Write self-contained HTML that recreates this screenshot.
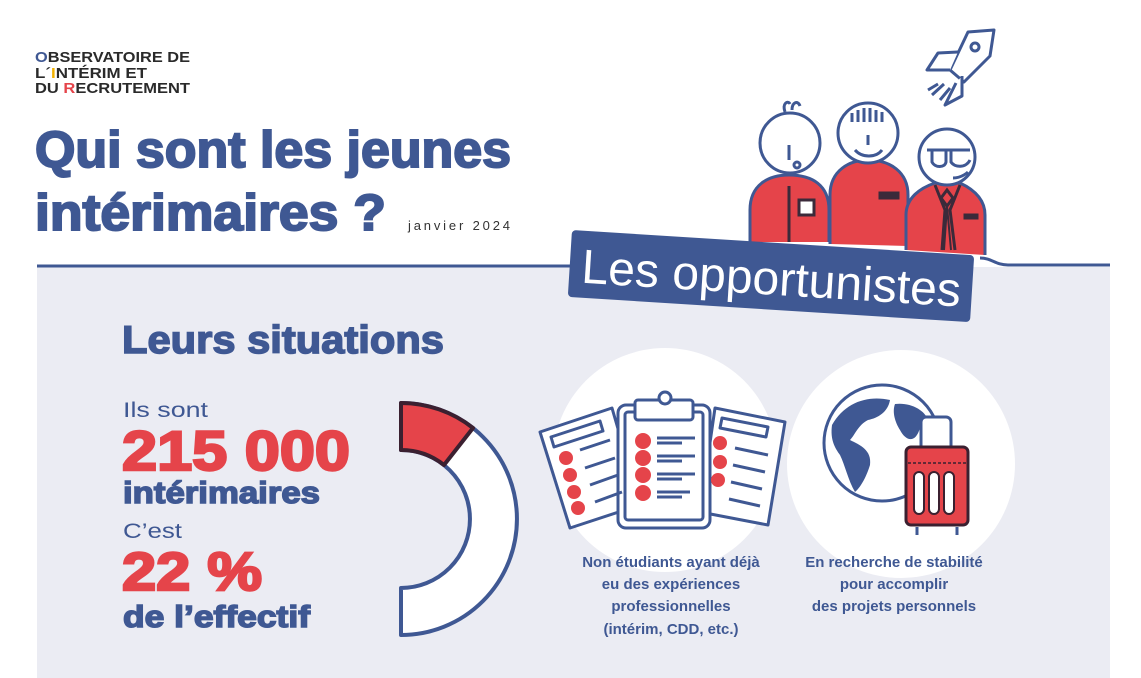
<!DOCTYPE html>
<html><head><meta charset="utf-8"><style>
html,body{margin:0;padding:0;background:#fff;}
svg{display:block;font-family:"Liberation Sans",sans-serif;}
</style></head><body>
<svg width="1141" height="678" viewBox="0 0 1141 678" xmlns="http://www.w3.org/2000/svg">
<rect width="1141" height="678" fill="#fff"/>
<rect x="37" y="267" width="1073" height="411" fill="#ebecf3"/>
<path d="M37 266 H580 M980 258 C992 258 995 265 1008 265 H1110" stroke="#3f5893" stroke-width="3" fill="none"/>

<g font-weight="bold" font-size="15" fill="#2a2a2a">
<text x="35" y="62" textLength="155" lengthAdjust="spacingAndGlyphs"><tspan fill="#3f5893">O</tspan>BSERVATOIRE DE</text>
<text x="35" y="78" textLength="112" lengthAdjust="spacingAndGlyphs">L´<tspan fill="#f2b200">I</tspan>NTÉRIM ET</text>
<text x="35" y="93" textLength="155" lengthAdjust="spacingAndGlyphs">DU <tspan fill="#e5444a">R</tspan>ECRUTEMENT</text>
</g>

<g font-weight="bold" fill="#3f5893" stroke="#3f5893" stroke-width="2" font-size="51">
<text x="35" y="167" textLength="476" lengthAdjust="spacingAndGlyphs">Qui sont les jeunes</text>
<text x="35" y="230" textLength="351" lengthAdjust="spacingAndGlyphs">intérimaires ?</text>
</g>
<text x="408" y="230" font-size="13" fill="#333" textLength="102" lengthAdjust="spacing">janvier 2024</text>

<g stroke="#3f5893" stroke-width="3" fill="#fff" stroke-linejoin="round">
<path d="M968 32 L994 30 L990 56 L964 82 L950 70 Z"/>
<circle cx="975" cy="47" r="4"/>
<path d="M958 52 L938 53 L927 70 L950 70"/>
<path d="M962 76 L962 96 L945 105 L956 83"/>
<path d="M944 84 L932 95 M950 88 L940 100 M938 84 L928 90"/>
</g>

<!-- characters -->
<g stroke="#3f5893" stroke-width="3" stroke-linejoin="round">
<path d="M750 242 V210 C750 185 768 175 789 175 C812 175 829 185 829 210 V242" fill="#e5444a"/>
<path d="M830 244 V195 C830 170 850 160 868 160 C890 160 908 172 908 195 V246" fill="#e5444a"/>
<path d="M906 250 V215 C906 198 920 188 935 183 L960 183 C975 190 985 200 985 215 V255" fill="#e5444a"/>
</g>
<g stroke="#3b2a3a" stroke-width="3" fill="none">
<path d="M789 186 V242"/>
<rect x="799" y="200" width="15" height="15" fill="#fff"/>
<rect x="880" y="193" width="18" height="5" fill="#3b2a3a"/>
<path d="M935 185 L945 210 L942 250 M960 185 L950 210 L955 250"/>
<path d="M947 190 L953 198 L947 206 L941 198 Z" fill="#e5444a"/>
<path d="M947 206 L944 250 M947 206 L951 250" stroke-width="2"/>
<rect x="965" y="215" width="12" height="3" fill="#3b2a3a"/>
</g>
<g stroke="#3f5893" stroke-width="3" fill="#fff">
<circle cx="790" cy="143" r="30"/>
<circle cx="868" cy="133" r="30"/>
<circle cx="947" cy="157" r="28"/>
<path d="M789 145 V160 M852 113 V122 M858 110 V122 M864 108 V122 M870 108 V122 M876 110 V122 M882 112 V122 M868 135 V145 M855 150 C862 158 876 158 882 150" fill="none"/>
<circle cx="797" cy="165" r="3"/>
<path d="M927 150 H970 M932 150 V162 C935 168 945 168 946 162 V150 M951 150 V162 C955 168 966 168 970 160 M953 178 C962 178 968 172 968 172" fill="none"/>
<path d="M785 112 C782 103 788 100 790 104 M792 110 C792 102 798 100 800 106" fill="none"/>
</g>

<g transform="translate(572,230) rotate(3.6)">
<rect x="0" y="0" width="403" height="67" rx="4" fill="#3f5893"/>
<text x="12" y="52" font-size="48" fill="#fff" textLength="380" lengthAdjust="spacingAndGlyphs">Les opportunistes</text>
</g>

<g font-weight="bold" stroke-width="1.5">
<text x="122" y="353" font-size="39" fill="#3f5893" stroke="#3f5893" textLength="322" lengthAdjust="spacingAndGlyphs">Leurs situations</text>
<text x="122" y="470" font-size="56" fill="#e5444a" stroke="#e5444a" stroke-width="2.5" textLength="228" lengthAdjust="spacingAndGlyphs">215 000</text>
<text x="123" y="503" font-size="31" fill="#3f5893" stroke="#3f5893" textLength="197" lengthAdjust="spacingAndGlyphs">intérimaires</text>
<text x="122" y="590" font-size="54" fill="#e5444a" stroke="#e5444a" stroke-width="2.5" textLength="140" lengthAdjust="spacingAndGlyphs">22 %</text>
<text x="123" y="627" font-size="31" fill="#3f5893" stroke="#3f5893" textLength="187" lengthAdjust="spacingAndGlyphs">de l’effectif</text>
</g>
<text x="123" y="417" font-size="21" fill="#3f5893" textLength="85" lengthAdjust="spacingAndGlyphs">Ils sont</text>
<text x="123" y="538" font-size="21" fill="#3f5893" textLength="59" lengthAdjust="spacingAndGlyphs">C’est</text>

<path d="M401 403 A116 116 0 0 1 401 635 L401 588 A69 69 0 0 0 401 450 Z" fill="#fff" stroke="#3f5893" stroke-width="4" stroke-linejoin="round"/>
<path d="M401 403 A116 116 0 0 1 473 428 L444 465 A69 69 0 0 0 401 450 Z" fill="#e5444a" stroke="#3b2030" stroke-width="4" stroke-linejoin="round"/>

<circle cx="665" cy="460" r="112" fill="#fff"/>
<circle cx="901" cy="464" r="114" fill="#fff"/>

<g stroke="#3f5893" stroke-width="3" fill="#fff" stroke-linejoin="round">
<path d="M540 432 L612 408 L640 505 L570 528 Z"/>
<path d="M715 408 L785 422 L768 525 L700 512 Z"/>
<rect x="618" y="405" width="92" height="123" rx="8"/>
<rect x="625" y="412" width="78" height="108" rx="3"/>
<rect x="635" y="400" width="58" height="20" rx="3"/>
<circle cx="665" cy="398" r="6"/>
<path d="M551 437 L600 421 L603 431 L554 447 Z"/>
<path d="M722 418 L768 427 L766 437 L720 428 Z"/>
</g>
<g fill="#e5444a">
<circle cx="643" cy="441" r="8"/><circle cx="643" cy="458" r="8"/><circle cx="643" cy="475" r="8"/><circle cx="643" cy="493" r="8"/>
<circle cx="566" cy="458" r="7"/><circle cx="570" cy="475" r="7"/><circle cx="574" cy="492" r="7"/><circle cx="578" cy="508" r="7"/>
<circle cx="720" cy="443" r="7"/><circle cx="720" cy="462" r="7"/><circle cx="718" cy="480" r="7"/>
</g>
<g stroke="#3f5893" stroke-width="3">
<path d="M657 438 H695 M657 443 H682 M657 456 H695 M657 461 H682 M657 474 H695 M657 479 H682 M657 492 H690 M657 497 H682"/>
<path d="M580 450 L610 440 M585 468 L615 458 M590 485 L618 475 M595 502 L622 492"/>
<path d="M735 448 L768 455 M733 465 L765 472 M731 482 L762 489 M729 499 L760 506"/>
</g>

<circle cx="882" cy="443" r="58" fill="#fff" stroke="#3f5893" stroke-width="3"/>
<g fill="#3f5893">
<path d="M832 425 C845 402 868 395 890 400 C888 412 878 418 868 420 C858 425 855 435 850 440 C860 445 872 450 870 465 C866 478 860 488 855 492 C848 480 845 465 840 455 C835 448 830 440 832 425 Z"/>
<path d="M895 404 C910 402 925 410 928 420 L920 428 C915 445 905 440 900 430 C895 422 892 412 895 404 Z"/>
</g>
<rect x="921" y="417" width="30" height="42" rx="5" fill="#fff" stroke="#3f5893" stroke-width="3"/>
<rect x="906" y="447" width="62" height="78" rx="5" fill="#e5444a" stroke="#3b2030" stroke-width="3"/>
<path d="M908 463 H966" stroke="#3b2030" stroke-width="1.5" stroke-dasharray="3 2"/>
<g fill="#fff" stroke="#3b2030" stroke-width="2"><rect x="914" y="472" width="10" height="42" rx="5"/><rect x="929" y="472" width="10" height="42" rx="5"/><rect x="944" y="472" width="10" height="42" rx="5"/></g>
<g stroke="#3f5893" stroke-width="3" fill="none"><path d="M917 527 V535 M957 527 V535"/></g>

<g font-size="15" font-weight="bold" fill="#3f5893" text-anchor="middle">
<text x="671" y="567">Non étudiants ayant déjà</text>
<text x="671" y="589">eu des expériences</text>
<text x="671" y="611">professionnelles</text>
<text x="671" y="634">(intérim, CDD, etc.)</text>
<text x="894" y="567">En recherche de stabilité</text>
<text x="894" y="589">pour accomplir</text>
<text x="894" y="611">des projets personnels</text>
</g>
</svg>
</body></html>
